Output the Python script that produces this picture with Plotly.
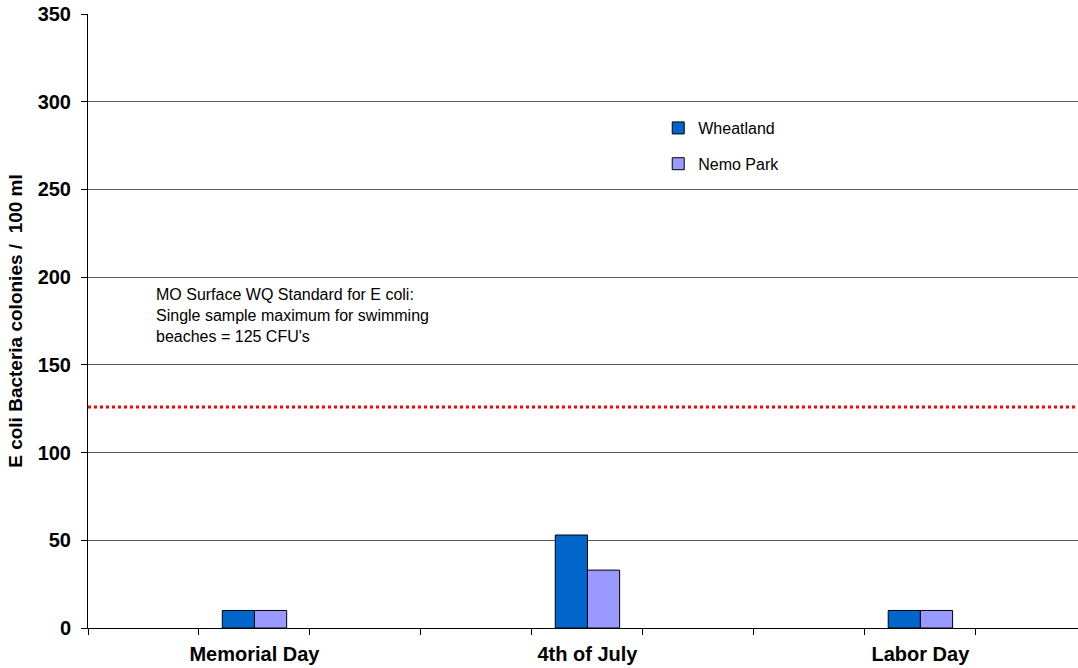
import plotly.graph_objects as go

# ---- data ----
holidays = ["Memorial Day", "4th of July", "Labor Day"]
holiday_slots = [1, 4, 7]          # position among 9 equal category slots
slot_edges = [-0.5, 0.5, 1.5, 2.5, 3.5, 4.5, 5.5, 6.5, 7.5, 8.5]
wheatland = [10, 53, 10]
nemo_park = [10, 33, 10]
standard_value = 126
y_ticks = [0, 50, 100, 150, 200, 250, 300, 350]
note_text = ("MO Surface WQ Standard for E coli:<br>"
             "Single sample maximum for swimming<br>"
             "beaches = 125 CFU's")

FONT = "Liberation Sans, Arial, sans-serif"
BAR_W = 0.29

fig = go.Figure()
fig.add_trace(go.Bar(
    x=holiday_slots, y=wheatland, name="Wheatland",
    width=BAR_W, offset=-BAR_W,
    marker=dict(color="#0066CC", line=dict(color="#000000", width=1)),
    legendgroup="a",
))
fig.add_trace(go.Bar(
    x=holiday_slots, y=nemo_park, name="Nemo Park",
    width=BAR_W, offset=0,
    marker=dict(color="#9999FF", line=dict(color="#000000", width=1)),
    legendgroup="b",
))

fig.add_shape(type="line", xref="paper", x0=0, x1=1, yref="y",
              y0=standard_value, y1=standard_value,
              line=dict(color="#FF0000", width=3, dash="dot"), layer="above")

fig.add_annotation(text=note_text, xref="paper", x=0.0667, yref="y", y=196,
                   xanchor="left", yanchor="top", align="left", showarrow=False,
                   font=dict(family=FONT, size=16, color="#000000"))

fig.update_layout(
    width=1078, height=668,
    margin=dict(l=88, r=0, t=14, b=40),
    paper_bgcolor="white", plot_bgcolor="white",
    barmode="overlay",
    font=dict(family=FONT, color="#000000"),
    showlegend=True,
    legend=dict(x=0.576, y=0.842, xanchor="left", yanchor="top",
                font=dict(family=FONT, size=16, color="#000000"),
                bgcolor="rgba(0,0,0,0)", tracegroupgap=12),
    xaxis=dict(
        range=[-0.5, 8.42], tickmode="array", tickvals=holiday_slots,
        ticktext=holidays, ticks="", showgrid=False, zeroline=False,
        showline=True, linecolor="#000000", linewidth=1,
        ticklabelstandoff=8,
        tickfont=dict(family=FONT, size=20, color="#000000", weight="bold"),
        minor=dict(tickmode="array", tickvals=slot_edges, ticks="outside",
                   ticklen=6, tickcolor="#000000", showgrid=False),
    ),
    yaxis=dict(
        range=[0, 350], tickmode="array", tickvals=y_ticks,
        ticks="outside", ticklen=6, tickcolor="#000000",
        showgrid=True, gridcolor="#5A5A5A", gridwidth=1, zeroline=False,
        showline=True, linecolor="#000000", linewidth=1,
        ticklabelstandoff=6,
        tickfont=dict(family=FONT, size=20, color="#000000", weight="bold"),
        title=dict(text="E coli Bacteria colonies /  100 ml", standoff=9,
                   font=dict(family=FONT, size=19, color="#000000", weight="bold")),
    ),
)

fig.write_html("out.html")
